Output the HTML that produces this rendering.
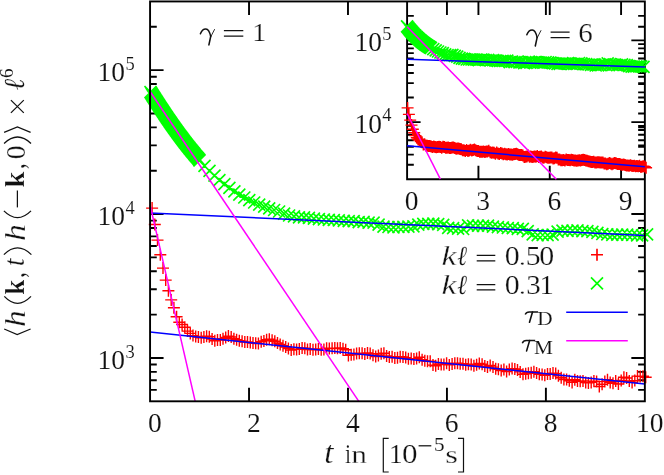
<!DOCTYPE html>
<html lang="en"><head><meta charset="utf-8"><title>plot</title>
<style>html,body{margin:0;padding:0;background:#fff}svg{display:block;will-change:transform}text{font-family:"Liberation Serif",serif}</style></head>
<body>
<svg width="664" height="475" viewBox="0 0 664 475">
<rect width="664" height="475" fill="#fff"/>
<path d="M249.03 401.30L249.03 387.80M249.03 1.45L249.03 14.95M347.98 401.30L347.98 387.80M347.98 1.45L347.98 14.95M446.94 401.30L446.94 387.80M446.94 1.45L446.94 14.95M545.89 401.30L545.89 387.80M545.89 1.45L545.89 14.95M150.07 389.90L156.77 389.90M644.85 389.90L638.15 389.90M150.07 380.27L156.77 380.27M644.85 380.27L638.15 380.27M150.07 371.92L156.77 371.92M644.85 371.92L638.15 371.92M150.07 364.56L156.77 364.56M644.85 364.56L638.15 364.56M150.07 357.97L163.57 357.97M644.85 357.97L631.35 357.97M150.07 314.65L156.77 314.65M644.85 314.65L638.15 314.65M150.07 289.30L156.77 289.30M644.85 289.30L638.15 289.30M150.07 271.32L156.77 271.32M644.85 271.32L638.15 271.32M150.07 257.37L156.77 257.37M644.85 257.37L638.15 257.37M150.07 245.98L156.77 245.98M644.85 245.98L638.15 245.98M150.07 236.34L156.77 236.34M644.85 236.34L638.15 236.34M150.07 228.00L156.77 228.00M644.85 228.00L638.15 228.00M150.07 220.63L156.77 220.63M644.85 220.63L638.15 220.63M150.07 214.05L163.57 214.05M644.85 214.05L631.35 214.05M150.07 170.72L156.77 170.72M644.85 170.72L638.15 170.72M150.07 145.38L156.77 145.38M644.85 145.38L638.15 145.38M150.07 127.39L156.77 127.39M644.85 127.39L638.15 127.39M150.07 113.45L156.77 113.45M644.85 113.45L638.15 113.45M150.07 102.05L156.77 102.05M644.85 102.05L638.15 102.05M150.07 92.41L156.77 92.41M644.85 92.41L638.15 92.41M150.07 84.07L156.77 84.07M644.85 84.07L638.15 84.07M150.07 76.71L156.77 76.71M644.85 76.71L638.15 76.71M150.07 70.12L163.57 70.12M644.85 70.12L631.35 70.12M150.07 26.79L156.77 26.79M644.85 26.79L638.15 26.79M478.43 179.20L478.43 165.70M478.43 1.45L478.43 14.95M549.75 179.20L549.75 165.70M549.75 1.45L549.75 14.95M621.08 179.20L621.08 165.70M621.08 1.45L621.08 14.95M407.10 164.82L413.80 164.82M644.85 164.82L638.15 164.82M407.10 154.61L413.80 154.61M644.85 154.61L638.15 154.61M407.10 146.70L413.80 146.70M644.85 146.70L638.15 146.70M407.10 140.23L413.80 140.23M644.85 140.23L638.15 140.23M407.10 134.76L413.80 134.76M644.85 134.76L638.15 134.76M407.10 130.02L413.80 130.02M644.85 130.02L638.15 130.02M407.10 125.84L413.80 125.84M644.85 125.84L638.15 125.84M407.10 122.11L420.60 122.11M644.85 122.11L631.35 122.11M407.10 97.52L413.80 97.52M644.85 97.52L638.15 97.52M407.10 83.13L413.80 83.13M644.85 83.13L638.15 83.13M407.10 72.93L413.80 72.93M644.85 72.93L638.15 72.93M407.10 65.01L413.80 65.01M644.85 65.01L638.15 65.01M407.10 58.54L413.80 58.54M644.85 58.54L638.15 58.54M407.10 53.08L413.80 53.08M644.85 53.08L638.15 53.08M407.10 48.34L413.80 48.34M644.85 48.34L638.15 48.34M407.10 44.16L413.80 44.16M644.85 44.16L638.15 44.16M407.10 40.42L420.60 40.42M644.85 40.42L631.35 40.42M407.10 15.83L413.80 15.83M644.85 15.83L638.15 15.83" stroke="#000" stroke-width="1.9" fill="none"/>
<path d="M146.1 208.1h12.0M152.1 202.1v12.0M148.8 224.5h12.0M154.8 218.5v12.0M151.5 240.1h12.0M157.5 234.1v12.0M154.3 254.7h12.0M160.3 248.7v12.0M157.0 268.1h12.0M163.0 262.1v12.0M159.7 280.1h12.0M165.7 274.1v12.0M162.4 290.8h12.0M168.4 284.8v12.0M165.2 299.9h12.0M171.2 293.9v12.0M167.9 307.7h12.0M173.9 301.7v12.0M170.6 316.8h12.0M176.6 310.8v12.0M173.3 322.3h12.0M179.3 316.3v12.0M176.1 324.5h12.0M182.1 318.5v12.0M178.8 327.3h12.0M184.8 321.3v12.0M181.5 331.1h12.0M187.5 325.1v12.0M184.3 333.4h12.0M190.3 327.4v12.0M187.0 335.6h12.0M193.0 329.6v12.0M189.7 336.4h12.0M195.7 330.4v12.0M192.4 337.0h12.0M198.4 331.0v12.0M195.2 337.7h12.0M201.2 331.7v12.0M197.9 337.0h12.0M203.9 331.0v12.0M200.6 336.3h12.0M206.6 330.3v12.0M203.3 336.8h12.0M209.3 330.8v12.0M206.1 339.1h12.0M212.1 333.1v12.0M208.8 340.7h12.0M214.8 334.7v12.0M211.5 340.1h12.0M217.5 334.1v12.0M214.3 340.0h12.0M220.3 334.0v12.0M217.0 338.8h12.0M223.0 332.8v12.0M219.7 337.5h12.0M225.7 331.5v12.0M222.4 336.1h12.0M228.4 330.1v12.0M225.2 337.0h12.0M231.2 331.0v12.0M227.9 338.7h12.0M233.9 332.7v12.0M230.6 339.7h12.0M236.6 333.7v12.0M233.3 340.7h12.0M239.3 334.7v12.0M236.1 341.2h12.0M242.1 335.2v12.0M238.8 342.0h12.0M244.8 336.0v12.0M241.5 342.0h12.0M247.5 336.0v12.0M244.3 342.6h12.0M250.3 336.6v12.0M247.0 343.1h12.0M253.0 337.1v12.0M249.7 343.3h12.0M255.7 337.3v12.0M252.4 343.6h12.0M258.4 337.6v12.0M255.2 341.8h12.0M261.2 335.8v12.0M257.9 340.9h12.0M263.9 334.9v12.0M260.6 339.7h12.0M266.6 333.7v12.0M263.3 339.2h12.0M269.3 333.2v12.0M266.1 340.2h12.0M272.1 334.2v12.0M268.8 341.2h12.0M274.8 335.2v12.0M271.5 343.0h12.0M277.5 337.0v12.0M274.2 344.5h12.0M280.2 338.5v12.0M277.0 345.8h12.0M283.0 339.8v12.0M279.7 347.1h12.0M285.7 341.1v12.0M282.4 348.5h12.0M288.4 342.5v12.0M285.2 350.1h12.0M291.2 344.1v12.0M287.9 349.2h12.0M293.9 343.2v12.0M290.6 349.4h12.0M296.6 343.4v12.0M293.3 349.1h12.0M299.3 343.1v12.0M296.1 348.0h12.0M302.1 342.0v12.0M298.8 348.2h12.0M304.8 342.2v12.0M301.5 349.5h12.0M307.5 343.5v12.0M304.2 348.9h12.0M310.2 342.9v12.0M307.0 349.7h12.0M313.0 343.7v12.0M309.7 349.4h12.0M315.7 343.4v12.0M312.4 349.0h12.0M318.4 343.0v12.0M315.2 349.8h12.0M321.2 343.8v12.0M317.9 349.6h12.0M323.9 343.6v12.0M320.6 348.3h12.0M326.6 342.3v12.0M323.3 348.6h12.0M329.3 342.6v12.0M326.1 348.2h12.0M332.1 342.2v12.0M328.8 348.1h12.0M334.8 342.1v12.0M331.5 348.3h12.0M337.5 342.3v12.0M334.2 347.9h12.0M340.2 341.9v12.0M337.0 348.8h12.0M343.0 342.8v12.0M339.7 349.8h12.0M345.7 343.8v12.0M342.4 355.4h12.0M348.4 349.4v12.0M345.2 354.8h12.0M351.2 348.8v12.0M347.9 354.5h12.0M353.9 348.5v12.0M350.6 353.6h12.0M356.6 347.6v12.0M353.3 353.2h12.0M359.3 347.2v12.0M356.1 353.3h12.0M362.1 347.3v12.0M358.8 354.0h12.0M364.8 348.0v12.0M361.5 352.9h12.0M367.5 346.9v12.0M364.2 353.6h12.0M370.2 347.6v12.0M367.0 355.3h12.0M373.0 349.3v12.0M369.7 356.5h12.0M375.7 350.5v12.0M372.4 355.4h12.0M378.4 349.4v12.0M375.2 353.7h12.0M381.2 347.7v12.0M377.9 353.2h12.0M383.9 347.2v12.0M380.6 355.9h12.0M386.6 349.9v12.0M383.3 357.0h12.0M389.3 351.0v12.0M386.1 356.8h12.0M392.1 350.8v12.0M388.8 357.9h12.0M394.8 351.9v12.0M391.5 357.7h12.0M397.5 351.7v12.0M394.2 356.8h12.0M400.2 350.8v12.0M397.0 357.0h12.0M403.0 351.0v12.0M399.7 357.6h12.0M405.7 351.6v12.0M402.4 358.7h12.0M408.4 352.7v12.0M405.2 358.6h12.0M411.2 352.6v12.0M407.9 358.9h12.0M413.9 352.9v12.0M410.6 358.6h12.0M416.6 352.6v12.0M413.3 357.2h12.0M419.3 351.2v12.0M416.1 359.8h12.0M422.1 353.8v12.0M418.8 360.8h12.0M424.8 354.8v12.0M421.5 361.3h12.0M427.5 355.3v12.0M424.2 361.2h12.0M430.2 355.2v12.0M427.0 365.1h12.0M433.0 359.1v12.0M429.7 365.7h12.0M435.7 359.7v12.0M432.4 363.9h12.0M438.4 357.9v12.0M435.2 364.4h12.0M441.2 358.4v12.0M437.9 364.6h12.0M443.9 358.6v12.0M440.6 363.3h12.0M446.6 357.3v12.0M443.3 364.9h12.0M449.3 358.9v12.0M446.1 364.0h12.0M452.1 358.0v12.0M448.8 363.2h12.0M454.8 357.2v12.0M451.5 363.3h12.0M457.5 357.3v12.0M454.2 363.7h12.0M460.2 357.7v12.0M457.0 363.7h12.0M463.0 357.7v12.0M459.7 364.7h12.0M465.7 358.7v12.0M462.4 364.2h12.0M468.4 358.2v12.0M465.2 364.6h12.0M471.2 358.6v12.0M467.9 365.8h12.0M473.9 359.8v12.0M470.6 364.7h12.0M476.6 358.7v12.0M473.3 363.4h12.0M479.3 357.4v12.0M476.1 364.3h12.0M482.1 358.3v12.0M478.8 366.1h12.0M484.8 360.1v12.0M481.5 366.9h12.0M487.5 360.9v12.0M484.2 365.5h12.0M490.2 359.5v12.0M487.0 367.1h12.0M493.0 361.1v12.0M489.7 368.8h12.0M495.7 362.8v12.0M492.4 369.2h12.0M498.4 363.2v12.0M495.2 370.5h12.0M501.2 364.5v12.0M497.9 369.6h12.0M503.9 363.6v12.0M500.6 371.5h12.0M506.6 365.5v12.0M503.3 369.5h12.0M509.3 363.5v12.0M506.1 368.6h12.0M512.1 362.6v12.0M508.8 369.0h12.0M514.8 363.0v12.0M511.5 370.0h12.0M517.5 364.0v12.0M514.2 371.9h12.0M520.2 365.9v12.0M517.0 374.3h12.0M523.0 368.3v12.0M519.7 373.7h12.0M525.7 367.7v12.0M522.4 373.2h12.0M528.4 367.2v12.0M525.2 372.8h12.0M531.2 366.8v12.0M527.9 371.8h12.0M533.9 365.8v12.0M530.6 373.1h12.0M536.6 367.1v12.0M533.3 374.3h12.0M539.3 368.3v12.0M536.1 374.4h12.0M542.1 368.4v12.0M538.8 375.3h12.0M544.8 369.3v12.0M541.5 374.1h12.0M547.5 368.1v12.0M544.2 373.9h12.0M550.2 367.9v12.0M547.0 373.1h12.0M553.0 367.1v12.0M549.7 373.6h12.0M555.7 367.6v12.0M552.4 375.8h12.0M558.4 369.8v12.0M555.2 377.8h12.0M561.2 371.8v12.0M557.9 379.5h12.0M563.9 373.5v12.0M560.6 379.6h12.0M566.6 373.6v12.0M563.3 380.7h12.0M569.3 374.7v12.0M566.1 382.4h12.0M572.1 376.4v12.0M568.8 379.7h12.0M574.8 373.7v12.0M571.5 381.0h12.0M577.5 375.0v12.0M574.2 381.3h12.0M580.2 375.3v12.0M577.0 380.9h12.0M583.0 374.9v12.0M579.7 382.6h12.0M585.7 376.6v12.0M582.4 382.9h12.0M588.4 376.9v12.0M585.2 382.4h12.0M591.2 376.4v12.0M587.9 381.1h12.0M593.9 375.1v12.0M590.6 381.6h12.0M596.6 375.6v12.0M593.3 386.5h12.0M599.3 380.5v12.0M596.1 384.2h12.0M602.1 378.2v12.0M598.8 381.6h12.0M604.8 375.6v12.0M601.5 379.8h12.0M607.5 373.8v12.0M604.2 382.4h12.0M610.2 376.4v12.0M607.0 383.3h12.0M613.0 377.3v12.0M609.7 381.0h12.0M615.7 375.0v12.0M612.4 384.0h12.0M618.4 378.0v12.0M615.2 380.5h12.0M621.2 374.5v12.0M617.9 377.2h12.0M623.9 371.2v12.0M620.6 378.0h12.0M626.6 372.0v12.0M623.3 381.0h12.0M629.3 375.0v12.0M626.1 382.4h12.0M632.1 376.4v12.0M628.8 380.6h12.0M634.8 374.6v12.0M631.5 376.1h12.0M637.5 370.1v12.0M634.2 376.4h12.0M640.2 370.4v12.0M637.0 376.3h12.0M643.0 370.3v12.0M639.7 377.2h12.0M645.7 371.2v12.0" stroke="#f00" stroke-width="1.4" fill="none"/>
<path d="M144.5 86.0l12.0 12.0M144.5 98.0l12.0 -12.0M144.9 86.7l12.0 12.0M144.9 98.7l12.0 -12.0M145.4 87.4l12.0 12.0M145.4 99.4l12.0 -12.0M145.8 88.1l12.0 12.0M145.8 100.1l12.0 -12.0M146.3 88.8l12.0 12.0M146.3 100.8l12.0 -12.0M146.7 89.6l12.0 12.0M146.7 101.6l12.0 -12.0M147.2 90.3l12.0 12.0M147.2 102.3l12.0 -12.0M147.6 91.0l12.0 12.0M147.6 103.0l12.0 -12.0M148.1 91.7l12.0 12.0M148.1 103.7l12.0 -12.0M148.5 92.4l12.0 12.0M148.5 104.4l12.0 -12.0M149.0 93.1l12.0 12.0M149.0 105.1l12.0 -12.0M149.4 93.8l12.0 12.0M149.4 105.8l12.0 -12.0M149.9 94.5l12.0 12.0M149.9 106.5l12.0 -12.0M150.3 95.2l12.0 12.0M150.3 107.2l12.0 -12.0M150.8 95.9l12.0 12.0M150.8 107.9l12.0 -12.0M151.2 96.6l12.0 12.0M151.2 108.6l12.0 -12.0M151.7 97.3l12.0 12.0M151.7 109.3l12.0 -12.0M152.1 98.0l12.0 12.0M152.1 110.0l12.0 -12.0M152.6 98.7l12.0 12.0M152.6 110.7l12.0 -12.0M153.0 99.4l12.0 12.0M153.0 111.4l12.0 -12.0M153.5 100.1l12.0 12.0M153.5 112.1l12.0 -12.0M153.9 100.8l12.0 12.0M153.9 112.8l12.0 -12.0M154.4 101.5l12.0 12.0M154.4 113.5l12.0 -12.0M154.8 102.2l12.0 12.0M154.8 114.2l12.0 -12.0M155.3 102.8l12.0 12.0M155.3 114.8l12.0 -12.0M155.7 103.5l12.0 12.0M155.7 115.5l12.0 -12.0M156.2 104.2l12.0 12.0M156.2 116.2l12.0 -12.0M156.6 104.9l12.0 12.0M156.6 116.9l12.0 -12.0M157.1 105.6l12.0 12.0M157.1 117.6l12.0 -12.0M157.5 106.2l12.0 12.0M157.5 118.2l12.0 -12.0M158.0 106.9l12.0 12.0M158.0 118.9l12.0 -12.0M158.4 107.6l12.0 12.0M158.4 119.6l12.0 -12.0M158.9 108.3l12.0 12.0M158.9 120.3l12.0 -12.0M159.3 108.9l12.0 12.0M159.3 120.9l12.0 -12.0M159.8 109.6l12.0 12.0M159.8 121.6l12.0 -12.0M160.2 110.3l12.0 12.0M160.2 122.3l12.0 -12.0M160.7 110.9l12.0 12.0M160.7 122.9l12.0 -12.0M161.1 111.6l12.0 12.0M161.1 123.6l12.0 -12.0M161.6 112.3l12.0 12.0M161.6 124.3l12.0 -12.0M162.0 112.9l12.0 12.0M162.0 124.9l12.0 -12.0M162.5 113.6l12.0 12.0M162.5 125.6l12.0 -12.0M162.9 114.2l12.0 12.0M162.9 126.2l12.0 -12.0M163.4 114.9l12.0 12.0M163.4 126.9l12.0 -12.0M163.8 115.6l12.0 12.0M163.8 127.6l12.0 -12.0M164.3 116.2l12.0 12.0M164.3 128.2l12.0 -12.0M164.7 116.9l12.0 12.0M164.7 128.9l12.0 -12.0M165.2 117.5l12.0 12.0M165.2 129.5l12.0 -12.0M165.6 118.1l12.0 12.0M165.6 130.1l12.0 -12.0M166.1 118.8l12.0 12.0M166.1 130.8l12.0 -12.0M166.5 119.4l12.0 12.0M166.5 131.4l12.0 -12.0M167.0 120.1l12.0 12.0M167.0 132.1l12.0 -12.0M167.4 120.7l12.0 12.0M167.4 132.7l12.0 -12.0M167.9 121.3l12.0 12.0M167.9 133.3l12.0 -12.0M168.3 122.0l12.0 12.0M168.3 134.0l12.0 -12.0M168.8 122.6l12.0 12.0M168.8 134.6l12.0 -12.0M169.2 123.2l12.0 12.0M169.2 135.2l12.0 -12.0M169.7 123.9l12.0 12.0M169.7 135.9l12.0 -12.0M170.1 124.5l12.0 12.0M170.1 136.5l12.0 -12.0M170.6 125.1l12.0 12.0M170.6 137.1l12.0 -12.0M171.0 125.7l12.0 12.0M171.0 137.7l12.0 -12.0M171.5 126.4l12.0 12.0M171.5 138.4l12.0 -12.0M171.9 127.0l12.0 12.0M171.9 139.0l12.0 -12.0M172.4 127.6l12.0 12.0M172.4 139.6l12.0 -12.0M172.8 128.2l12.0 12.0M172.8 140.2l12.0 -12.0M173.3 128.8l12.0 12.0M173.3 140.8l12.0 -12.0M173.7 129.4l12.0 12.0M173.7 141.4l12.0 -12.0M174.2 130.0l12.0 12.0M174.2 142.0l12.0 -12.0M174.6 130.6l12.0 12.0M174.6 142.6l12.0 -12.0M175.1 131.2l12.0 12.0M175.1 143.2l12.0 -12.0M175.5 131.8l12.0 12.0M175.5 143.8l12.0 -12.0M176.0 132.4l12.0 12.0M176.0 144.4l12.0 -12.0M176.4 133.0l12.0 12.0M176.4 145.0l12.0 -12.0M176.9 133.6l12.0 12.0M176.9 145.6l12.0 -12.0M177.3 134.2l12.0 12.0M177.3 146.2l12.0 -12.0M177.8 134.8l12.0 12.0M177.8 146.8l12.0 -12.0M178.2 135.4l12.0 12.0M178.2 147.4l12.0 -12.0M178.7 136.0l12.0 12.0M178.7 148.0l12.0 -12.0M179.1 136.6l12.0 12.0M179.1 148.6l12.0 -12.0M179.6 137.2l12.0 12.0M179.6 149.2l12.0 -12.0M180.0 137.7l12.0 12.0M180.0 149.7l12.0 -12.0M180.5 138.3l12.0 12.0M180.5 150.3l12.0 -12.0M180.9 138.9l12.0 12.0M180.9 150.9l12.0 -12.0M181.4 139.5l12.0 12.0M181.4 151.5l12.0 -12.0M181.8 140.0l12.0 12.0M181.8 152.0l12.0 -12.0M182.3 140.6l12.0 12.0M182.3 152.6l12.0 -12.0M182.7 141.2l12.0 12.0M182.7 153.2l12.0 -12.0M183.2 141.7l12.0 12.0M183.2 153.7l12.0 -12.0M183.6 142.3l12.0 12.0M183.6 154.3l12.0 -12.0M184.1 142.8l12.0 12.0M184.1 154.8l12.0 -12.0M184.5 143.4l12.0 12.0M184.5 155.4l12.0 -12.0M185.0 143.9l12.0 12.0M185.0 155.9l12.0 -12.0M185.4 144.5l12.0 12.0M185.4 156.5l12.0 -12.0M185.9 145.0l12.0 12.0M185.9 157.0l12.0 -12.0M186.3 145.6l12.0 12.0M186.3 157.6l12.0 -12.0M186.8 146.1l12.0 12.0M186.8 158.1l12.0 -12.0M187.2 146.7l12.0 12.0M187.2 158.7l12.0 -12.0M187.7 147.2l12.0 12.0M187.7 159.2l12.0 -12.0M188.1 147.7l12.0 12.0M188.1 159.7l12.0 -12.0M188.6 148.3l12.0 12.0M188.6 160.3l12.0 -12.0M189.0 148.8l12.0 12.0M189.0 160.8l12.0 -12.0M189.4 149.3l12.0 12.0M189.4 161.3l12.0 -12.0M189.9 149.9l12.0 12.0M189.9 161.9l12.0 -12.0M190.3 150.4l12.0 12.0M190.3 162.4l12.0 -12.0M190.8 150.9l12.0 12.0M190.8 162.9l12.0 -12.0M191.2 151.4l12.0 12.0M191.2 163.4l12.0 -12.0M191.7 151.9l12.0 12.0M191.7 163.9l12.0 -12.0M192.1 152.4l12.0 12.0M192.1 164.4l12.0 -12.0M192.6 153.0l12.0 12.0M192.6 165.0l12.0 -12.0M193.0 153.5l12.0 12.0M193.0 165.5l12.0 -12.0M193.5 154.0l12.0 12.0M193.5 166.0l12.0 -12.0M193.5 154.5l12.0 12.0M193.5 166.5l12.0 -12.0M198.5 159.9l12.0 12.0M198.5 171.9l12.0 -12.0M203.5 164.9l12.0 12.0M203.5 176.9l12.0 -12.0M208.5 169.7l12.0 12.0M208.5 181.7l12.0 -12.0M213.4 174.1l12.0 12.0M213.4 186.1l12.0 -12.0M218.4 178.2l12.0 12.0M218.4 190.2l12.0 -12.0M223.4 181.9l12.0 12.0M223.4 193.9l12.0 -12.0M228.4 185.4l12.0 12.0M228.4 197.4l12.0 -12.0M233.3 188.6l12.0 12.0M233.3 200.6l12.0 -12.0M238.3 191.5l12.0 12.0M238.3 203.5l12.0 -12.0M243.3 194.1l12.0 12.0M243.3 206.1l12.0 -12.0M248.2 196.5l12.0 12.0M248.2 208.5l12.0 -12.0M253.2 198.7l12.0 12.0M253.2 210.7l12.0 -12.0M258.2 200.6l12.0 12.0M258.2 212.6l12.0 -12.0M263.2 202.4l12.0 12.0M263.2 214.4l12.0 -12.0M268.1 204.0l12.0 12.0M268.1 216.0l12.0 -12.0M273.1 205.5l12.0 12.0M273.1 217.5l12.0 -12.0M278.1 207.6l12.0 12.0M278.1 219.6l12.0 -12.0M283.1 209.5l12.0 12.0M283.1 221.5l12.0 -12.0M288.0 210.3l12.0 12.0M288.0 222.3l12.0 -12.0M293.0 211.4l12.0 12.0M293.0 223.4l12.0 -12.0M298.0 211.3l12.0 12.0M298.0 223.3l12.0 -12.0M302.9 211.9l12.0 12.0M302.9 223.9l12.0 -12.0M307.9 212.7l12.0 12.0M307.9 224.7l12.0 -12.0M312.9 213.2l12.0 12.0M312.9 225.2l12.0 -12.0M317.9 213.5l12.0 12.0M317.9 225.5l12.0 -12.0M322.8 213.9l12.0 12.0M322.8 225.9l12.0 -12.0M327.8 214.0l12.0 12.0M327.8 226.0l12.0 -12.0M332.8 214.3l12.0 12.0M332.8 226.3l12.0 -12.0M337.8 214.9l12.0 12.0M337.8 226.9l12.0 -12.0M342.7 215.1l12.0 12.0M342.7 227.1l12.0 -12.0M347.7 215.1l12.0 12.0M347.7 227.1l12.0 -12.0M352.7 216.2l12.0 12.0M352.7 228.2l12.0 -12.0M357.6 215.9l12.0 12.0M357.6 227.9l12.0 -12.0M362.6 216.6l12.0 12.0M362.6 228.6l12.0 -12.0M367.6 216.7l12.0 12.0M367.6 228.7l12.0 -12.0M372.6 218.6l12.0 12.0M372.6 230.6l12.0 -12.0M377.5 220.7l12.0 12.0M377.5 232.7l12.0 -12.0M382.5 221.0l12.0 12.0M382.5 233.0l12.0 -12.0M387.5 221.3l12.0 12.0M387.5 233.3l12.0 -12.0M392.4 221.0l12.0 12.0M392.4 233.0l12.0 -12.0M397.4 220.8l12.0 12.0M397.4 232.8l12.0 -12.0M402.4 220.7l12.0 12.0M402.4 232.7l12.0 -12.0M407.4 220.3l12.0 12.0M407.4 232.3l12.0 -12.0M412.3 218.7l12.0 12.0M412.3 230.7l12.0 -12.0M417.3 217.9l12.0 12.0M417.3 229.9l12.0 -12.0M422.3 217.9l12.0 12.0M422.3 229.9l12.0 -12.0M427.3 217.7l12.0 12.0M427.3 229.7l12.0 -12.0M432.2 218.1l12.0 12.0M432.2 230.1l12.0 -12.0M437.2 218.9l12.0 12.0M437.2 230.9l12.0 -12.0M442.2 221.8l12.0 12.0M442.2 233.8l12.0 -12.0M447.1 222.2l12.0 12.0M447.1 234.2l12.0 -12.0M452.1 222.7l12.0 12.0M452.1 234.7l12.0 -12.0M457.1 223.0l12.0 12.0M457.1 235.0l12.0 -12.0M462.1 219.3l12.0 12.0M462.1 231.3l12.0 -12.0M467.0 219.8l12.0 12.0M467.0 231.8l12.0 -12.0M472.0 219.7l12.0 12.0M472.0 231.7l12.0 -12.0M477.0 219.8l12.0 12.0M477.0 231.8l12.0 -12.0M482.0 219.7l12.0 12.0M482.0 231.7l12.0 -12.0M486.9 220.7l12.0 12.0M486.9 232.7l12.0 -12.0M491.9 221.2l12.0 12.0M491.9 233.2l12.0 -12.0M496.9 221.5l12.0 12.0M496.9 233.5l12.0 -12.0M501.8 222.0l12.0 12.0M501.8 234.0l12.0 -12.0M506.8 222.2l12.0 12.0M506.8 234.2l12.0 -12.0M511.8 222.8l12.0 12.0M511.8 234.8l12.0 -12.0M516.8 222.8l12.0 12.0M516.8 234.8l12.0 -12.0M521.7 225.2l12.0 12.0M521.7 237.2l12.0 -12.0M526.7 228.3l12.0 12.0M526.7 240.3l12.0 -12.0M531.7 229.1l12.0 12.0M531.7 241.1l12.0 -12.0M536.7 229.0l12.0 12.0M536.7 241.0l12.0 -12.0M541.6 229.2l12.0 12.0M541.6 241.2l12.0 -12.0M546.6 228.6l12.0 12.0M546.6 240.6l12.0 -12.0M551.6 225.7l12.0 12.0M551.6 237.7l12.0 -12.0M556.5 224.6l12.0 12.0M556.5 236.6l12.0 -12.0M561.5 224.8l12.0 12.0M561.5 236.8l12.0 -12.0M566.5 224.6l12.0 12.0M566.5 236.6l12.0 -12.0M571.5 224.4l12.0 12.0M571.5 236.4l12.0 -12.0M576.4 225.1l12.0 12.0M576.4 237.1l12.0 -12.0M581.4 225.1l12.0 12.0M581.4 237.1l12.0 -12.0M586.4 225.9l12.0 12.0M586.4 237.9l12.0 -12.0M591.4 226.8l12.0 12.0M591.4 238.8l12.0 -12.0M596.3 228.0l12.0 12.0M596.3 240.0l12.0 -12.0M601.3 228.4l12.0 12.0M601.3 240.4l12.0 -12.0M606.3 228.8l12.0 12.0M606.3 240.8l12.0 -12.0M611.2 228.6l12.0 12.0M611.2 240.6l12.0 -12.0M616.2 228.6l12.0 12.0M616.2 240.6l12.0 -12.0M621.2 228.6l12.0 12.0M621.2 240.6l12.0 -12.0M626.2 229.0l12.0 12.0M626.2 241.0l12.0 -12.0M631.1 229.3l12.0 12.0M631.1 241.3l12.0 -12.0M636.1 229.3l12.0 12.0M636.1 241.3l12.0 -12.0M641.1 228.4l12.0 12.0M641.1 240.4l12.0 -12.0" stroke="#0f0" stroke-width="1.65" fill="none"/>
<line x1="150.07" y1="212.90" x2="644.85" y2="235.40" stroke="#00f" stroke-width="1.5"/>
<line x1="150.07" y1="332.10" x2="644.85" y2="384.10" stroke="#00f" stroke-width="1.5"/>
<line x1="150.07" y1="91.50" x2="358.83" y2="401.30" stroke="#f0f" stroke-width="1.5"/>
<line x1="150.07" y1="205.00" x2="195.20" y2="401.30" stroke="#f0f" stroke-width="1.5"/>
<rect x="150.07" y="1.45" width="494.78" height="399.85" fill="none" stroke="#000" stroke-width="1.9"/>
<path d="M407.1 1.45V179.2H644.85" fill="none" stroke="#000" stroke-width="1.9"/>
<path d="M401.6 107.9h12.0M407.6 101.9v12.0M402.9 114.4h12.0M408.9 108.4v12.0M404.2 120.1h12.0M410.2 114.1v12.0M405.5 125.1h12.0M411.5 119.1v12.0M406.8 129.3h12.0M412.8 123.3v12.0M408.2 132.7h12.0M414.2 126.7v12.0M409.5 135.6h12.0M415.5 129.6v12.0M410.8 137.8h12.0M416.8 131.8v12.0M412.1 139.5h12.0M418.1 133.5v12.0M413.4 140.0h12.0M419.4 134.0v12.0M414.7 141.6h12.0M420.7 135.6v12.0M416.0 142.3h12.0M422.0 136.3v12.0M417.3 144.4h12.0M423.3 138.4v12.0M418.6 144.3h12.0M424.6 138.3v12.0M419.9 145.4h12.0M425.9 139.4v12.0M421.3 145.7h12.0M427.3 139.7v12.0M422.6 146.0h12.0M428.6 140.0v12.0M423.9 146.0h12.0M429.9 140.0v12.0M425.2 146.4h12.0M431.2 140.4v12.0M426.5 147.1h12.0M432.5 141.1v12.0M427.8 146.6h12.0M433.8 140.6v12.0M429.1 146.9h12.0M435.1 140.9v12.0M430.4 147.3h12.0M436.4 141.3v12.0M431.7 147.0h12.0M437.7 141.0v12.0M433.1 146.7h12.0M439.1 140.7v12.0M434.4 147.1h12.0M440.4 141.1v12.0M435.7 147.7h12.0M441.7 141.7v12.0M437.0 146.7h12.0M443.0 140.7v12.0M438.3 147.1h12.0M444.3 141.1v12.0M439.6 147.8h12.0M445.6 141.8v12.0M440.9 147.8h12.0M446.9 141.8v12.0M442.2 147.6h12.0M448.2 141.6v12.0M443.5 148.0h12.0M449.5 142.0v12.0M444.8 147.9h12.0M450.8 141.9v12.0M446.2 147.6h12.0M452.2 141.6v12.0M447.5 147.5h12.0M453.5 141.5v12.0M448.8 148.0h12.0M454.8 142.0v12.0M450.1 148.8h12.0M456.1 142.8v12.0M451.4 148.4h12.0M457.4 142.4v12.0M452.7 148.6h12.0M458.7 142.6v12.0M454.0 149.1h12.0M460.0 143.1v12.0M455.3 149.3h12.0M461.3 143.3v12.0M456.6 150.2h12.0M462.6 144.2v12.0M458.0 150.2h12.0M464.0 144.2v12.0M459.3 151.0h12.0M465.3 145.0v12.0M460.6 150.1h12.0M466.6 144.1v12.0M461.9 151.0h12.0M467.9 145.0v12.0M463.2 150.4h12.0M469.2 144.4v12.0M464.5 149.7h12.0M470.5 143.7v12.0M465.8 150.6h12.0M471.8 144.6v12.0M467.1 150.1h12.0M473.1 144.1v12.0M468.4 149.5h12.0M474.4 143.5v12.0M469.7 150.2h12.0M475.7 144.2v12.0M471.1 151.0h12.0M477.1 145.0v12.0M472.4 151.0h12.0M478.4 145.0v12.0M473.7 151.7h12.0M479.7 145.7v12.0M475.0 151.8h12.0M481.0 145.8v12.0M476.3 151.8h12.0M482.3 145.8v12.0M477.6 151.6h12.0M483.6 145.6v12.0M478.9 151.9h12.0M484.9 145.9v12.0M480.2 151.5h12.0M486.2 145.5v12.0M481.5 151.5h12.0M487.5 145.5v12.0M482.8 150.7h12.0M488.8 144.7v12.0M484.2 152.2h12.0M490.2 146.2v12.0M485.5 152.7h12.0M491.5 146.7v12.0M486.8 152.5h12.0M492.8 146.5v12.0M488.1 152.7h12.0M494.1 146.7v12.0M489.4 153.8h12.0M495.4 147.8v12.0M490.7 152.5h12.0M496.7 146.5v12.0M492.0 153.4h12.0M498.0 147.4v12.0M493.3 154.1h12.0M499.3 148.1v12.0M494.6 152.9h12.0M500.6 146.9v12.0M496.0 153.6h12.0M502.0 147.6v12.0M497.3 154.2h12.0M503.3 148.2v12.0M498.6 153.7h12.0M504.6 147.7v12.0M499.9 154.3h12.0M505.9 148.3v12.0M501.2 154.6h12.0M507.2 148.6v12.0M502.5 154.1h12.0M508.5 148.1v12.0M503.8 154.5h12.0M509.8 148.5v12.0M505.1 154.6h12.0M511.1 148.6v12.0M506.4 154.7h12.0M512.4 148.7v12.0M507.7 154.2h12.0M513.7 148.2v12.0M509.1 154.1h12.0M515.1 148.1v12.0M510.4 153.8h12.0M516.4 147.8v12.0M511.7 154.2h12.0M517.7 148.2v12.0M513.0 155.0h12.0M519.0 149.0v12.0M514.3 155.1h12.0M520.3 149.1v12.0M515.6 155.1h12.0M521.6 149.1v12.0M516.9 155.5h12.0M522.9 149.5v12.0M518.2 157.1h12.0M524.2 151.1v12.0M519.5 156.7h12.0M525.5 150.7v12.0M520.9 156.6h12.0M526.9 150.6v12.0M522.2 155.4h12.0M528.2 149.4v12.0M523.5 156.7h12.0M529.5 150.7v12.0M524.8 156.6h12.0M530.8 150.6v12.0M526.1 157.1h12.0M532.1 151.1v12.0M527.4 156.7h12.0M533.4 150.7v12.0M528.7 156.5h12.0M534.7 150.5v12.0M530.0 156.8h12.0M536.0 150.8v12.0M531.3 155.9h12.0M537.3 149.9v12.0M532.6 157.0h12.0M538.6 151.0v12.0M534.0 156.8h12.0M540.0 150.8v12.0M535.3 156.5h12.0M541.3 150.5v12.0M536.6 157.4h12.0M542.6 151.4v12.0M537.9 157.7h12.0M543.9 151.7v12.0M539.2 156.7h12.0M545.2 150.7v12.0M540.5 157.2h12.0M546.5 151.2v12.0M541.8 157.7h12.0M547.8 151.7v12.0M543.1 157.7h12.0M549.1 151.7v12.0M544.4 157.6h12.0M550.4 151.6v12.0M545.8 157.4h12.0M551.8 151.4v12.0M547.1 158.6h12.0M553.1 152.6v12.0M548.4 158.2h12.0M554.4 152.2v12.0M549.7 157.6h12.0M555.7 151.6v12.0M551.0 157.8h12.0M557.0 151.8v12.0M552.3 159.4h12.0M558.3 153.4v12.0M553.6 159.6h12.0M559.6 153.6v12.0M554.9 160.3h12.0M560.9 154.3v12.0M556.2 160.3h12.0M562.2 154.3v12.0M557.5 159.9h12.0M563.5 153.9v12.0M558.9 160.5h12.0M564.9 154.5v12.0M560.2 159.5h12.0M566.2 153.5v12.0M561.5 160.0h12.0M567.5 154.0v12.0M562.8 160.1h12.0M568.8 154.1v12.0M564.1 160.3h12.0M570.1 154.3v12.0M565.4 159.8h12.0M571.4 153.8v12.0M566.7 160.1h12.0M572.7 154.1v12.0M568.0 160.5h12.0M574.0 154.5v12.0M569.3 160.5h12.0M575.3 154.5v12.0M570.7 160.7h12.0M576.7 154.7v12.0M572.0 160.5h12.0M578.0 154.5v12.0M573.3 160.2h12.0M579.3 154.2v12.0M574.6 160.5h12.0M580.6 154.5v12.0M575.9 160.1h12.0M581.9 154.1v12.0M577.2 159.7h12.0M583.2 153.7v12.0M578.5 159.9h12.0M584.5 153.9v12.0M579.8 160.4h12.0M585.8 154.4v12.0M581.1 160.7h12.0M587.1 154.7v12.0M582.4 161.2h12.0M588.4 155.2v12.0M583.8 161.6h12.0M589.8 155.6v12.0M585.1 162.0h12.0M591.1 156.0v12.0M586.4 162.1h12.0M592.4 156.1v12.0M587.7 161.8h12.0M593.7 155.8v12.0M589.0 162.4h12.0M595.0 156.4v12.0M590.3 162.6h12.0M596.3 156.6v12.0M591.6 162.3h12.0M597.6 156.3v12.0M592.9 162.2h12.0M598.9 156.2v12.0M594.2 162.6h12.0M600.2 156.6v12.0M595.6 162.4h12.0M601.6 156.4v12.0M596.9 162.4h12.0M602.9 156.4v12.0M598.2 163.6h12.0M604.2 157.6v12.0M599.5 163.5h12.0M605.5 157.5v12.0M600.8 164.3h12.0M606.8 158.3v12.0M602.1 163.7h12.0M608.1 157.7v12.0M603.4 163.0h12.0M609.4 157.0v12.0M604.7 163.4h12.0M610.7 157.4v12.0M606.0 164.2h12.0M612.0 158.2v12.0M607.3 163.4h12.0M613.3 157.4v12.0M608.7 162.9h12.0M614.7 156.9v12.0M610.0 163.2h12.0M616.0 157.2v12.0M611.3 163.9h12.0M617.3 157.9v12.0M612.6 164.0h12.0M618.6 158.0v12.0M613.9 164.1h12.0M619.9 158.1v12.0M615.2 164.8h12.0M621.2 158.8v12.0M616.5 164.7h12.0M622.5 158.7v12.0M617.8 164.6h12.0M623.8 158.6v12.0M619.1 165.0h12.0M625.1 159.0v12.0M620.4 165.6h12.0M626.4 159.6v12.0M621.8 165.5h12.0M627.8 159.5v12.0M623.1 165.8h12.0M629.1 159.8v12.0M624.4 165.2h12.0M630.4 159.2v12.0M625.7 165.7h12.0M631.7 159.7v12.0M627.0 166.1h12.0M633.0 160.1v12.0M628.3 165.7h12.0M634.3 159.7v12.0M629.6 166.3h12.0M635.6 160.3v12.0M630.9 166.1h12.0M636.9 160.1v12.0M632.2 166.2h12.0M638.2 160.2v12.0M633.6 165.8h12.0M639.6 159.8v12.0M634.9 167.0h12.0M640.9 161.0v12.0M636.2 166.6h12.0M642.2 160.6v12.0M637.5 166.3h12.0M643.5 160.3v12.0M638.8 166.6h12.0M644.8 160.6v12.0M640.1 167.7h12.0M646.1 161.7v12.0" stroke="#f00" stroke-width="1.4" fill="none"/>
<path d="M401.1 20.3l12.0 12.0M401.1 32.3l12.0 -12.0M401.3 20.6l12.0 12.0M401.3 32.6l12.0 -12.0M401.5 20.8l12.0 12.0M401.5 32.8l12.0 -12.0M401.7 21.1l12.0 12.0M401.7 33.1l12.0 -12.0M402.0 21.4l12.0 12.0M402.0 33.4l12.0 -12.0M402.2 21.6l12.0 12.0M402.2 33.6l12.0 -12.0M402.4 21.9l12.0 12.0M402.4 33.9l12.0 -12.0M402.6 22.2l12.0 12.0M402.6 34.2l12.0 -12.0M402.8 22.4l12.0 12.0M402.8 34.4l12.0 -12.0M403.0 22.7l12.0 12.0M403.0 34.7l12.0 -12.0M403.3 23.0l12.0 12.0M403.3 35.0l12.0 -12.0M403.5 23.2l12.0 12.0M403.5 35.2l12.0 -12.0M403.7 23.5l12.0 12.0M403.7 35.5l12.0 -12.0M403.9 23.7l12.0 12.0M403.9 35.7l12.0 -12.0M404.1 24.0l12.0 12.0M404.1 36.0l12.0 -12.0M404.3 24.3l12.0 12.0M404.3 36.3l12.0 -12.0M404.6 24.5l12.0 12.0M404.6 36.5l12.0 -12.0M404.8 24.8l12.0 12.0M404.8 36.8l12.0 -12.0M405.0 25.0l12.0 12.0M405.0 37.0l12.0 -12.0M405.2 25.3l12.0 12.0M405.2 37.3l12.0 -12.0M405.4 25.5l12.0 12.0M405.4 37.5l12.0 -12.0M405.6 25.8l12.0 12.0M405.6 37.8l12.0 -12.0M405.9 26.0l12.0 12.0M405.9 38.0l12.0 -12.0M406.1 26.2l12.0 12.0M406.1 38.2l12.0 -12.0M406.3 26.5l12.0 12.0M406.3 38.5l12.0 -12.0M406.5 26.7l12.0 12.0M406.5 38.7l12.0 -12.0M406.7 27.0l12.0 12.0M406.7 39.0l12.0 -12.0M406.9 27.2l12.0 12.0M406.9 39.2l12.0 -12.0M407.2 27.4l12.0 12.0M407.2 39.4l12.0 -12.0M407.4 27.7l12.0 12.0M407.4 39.7l12.0 -12.0M407.6 27.9l12.0 12.0M407.6 39.9l12.0 -12.0M407.8 28.1l12.0 12.0M407.8 40.1l12.0 -12.0M408.0 28.4l12.0 12.0M408.0 40.4l12.0 -12.0M408.2 28.6l12.0 12.0M408.2 40.6l12.0 -12.0M408.4 28.8l12.0 12.0M408.4 40.8l12.0 -12.0M408.7 29.0l12.0 12.0M408.7 41.0l12.0 -12.0M408.9 29.3l12.0 12.0M408.9 41.3l12.0 -12.0M409.1 29.5l12.0 12.0M409.1 41.5l12.0 -12.0M409.3 29.7l12.0 12.0M409.3 41.7l12.0 -12.0M409.5 29.9l12.0 12.0M409.5 41.9l12.0 -12.0M409.7 30.1l12.0 12.0M409.7 42.1l12.0 -12.0M410.0 30.3l12.0 12.0M410.0 42.3l12.0 -12.0M410.2 30.6l12.0 12.0M410.2 42.6l12.0 -12.0M410.4 30.8l12.0 12.0M410.4 42.8l12.0 -12.0M410.6 31.0l12.0 12.0M410.6 43.0l12.0 -12.0M410.8 31.2l12.0 12.0M410.8 43.2l12.0 -12.0M411.0 31.4l12.0 12.0M411.0 43.4l12.0 -12.0M411.3 31.6l12.0 12.0M411.3 43.6l12.0 -12.0M411.5 31.8l12.0 12.0M411.5 43.8l12.0 -12.0M411.7 32.0l12.0 12.0M411.7 44.0l12.0 -12.0M411.9 32.2l12.0 12.0M411.9 44.2l12.0 -12.0M412.1 32.4l12.0 12.0M412.1 44.4l12.0 -12.0M412.3 32.6l12.0 12.0M412.3 44.6l12.0 -12.0M412.6 32.8l12.0 12.0M412.6 44.8l12.0 -12.0M412.8 33.0l12.0 12.0M412.8 45.0l12.0 -12.0M413.0 33.2l12.0 12.0M413.0 45.2l12.0 -12.0M413.2 33.4l12.0 12.0M413.2 45.4l12.0 -12.0M413.4 33.6l12.0 12.0M413.4 45.6l12.0 -12.0M413.6 33.8l12.0 12.0M413.6 45.8l12.0 -12.0M413.9 34.0l12.0 12.0M413.9 46.0l12.0 -12.0M414.1 34.2l12.0 12.0M414.1 46.2l12.0 -12.0M414.3 34.4l12.0 12.0M414.3 46.4l12.0 -12.0M414.5 34.5l12.0 12.0M414.5 46.5l12.0 -12.0M414.7 34.7l12.0 12.0M414.7 46.7l12.0 -12.0M414.9 34.9l12.0 12.0M414.9 46.9l12.0 -12.0M415.1 35.1l12.0 12.0M415.1 47.1l12.0 -12.0M415.4 35.3l12.0 12.0M415.4 47.3l12.0 -12.0M415.6 35.4l12.0 12.0M415.6 47.4l12.0 -12.0M415.8 35.6l12.0 12.0M415.8 47.6l12.0 -12.0M416.0 35.8l12.0 12.0M416.0 47.8l12.0 -12.0M416.2 36.0l12.0 12.0M416.2 48.0l12.0 -12.0M416.4 36.1l12.0 12.0M416.4 48.1l12.0 -12.0M416.7 36.3l12.0 12.0M416.7 48.3l12.0 -12.0M416.9 36.5l12.0 12.0M416.9 48.5l12.0 -12.0M417.1 36.7l12.0 12.0M417.1 48.7l12.0 -12.0M417.3 36.8l12.0 12.0M417.3 48.8l12.0 -12.0M417.5 37.0l12.0 12.0M417.5 49.0l12.0 -12.0M417.7 37.2l12.0 12.0M417.7 49.2l12.0 -12.0M418.0 37.3l12.0 12.0M418.0 49.3l12.0 -12.0M418.2 37.5l12.0 12.0M418.2 49.5l12.0 -12.0M418.4 37.6l12.0 12.0M418.4 49.6l12.0 -12.0M418.6 37.8l12.0 12.0M418.6 49.8l12.0 -12.0M418.8 38.0l12.0 12.0M418.8 50.0l12.0 -12.0M419.0 38.1l12.0 12.0M419.0 50.1l12.0 -12.0M419.3 38.3l12.0 12.0M419.3 50.3l12.0 -12.0M419.5 38.4l12.0 12.0M419.5 50.4l12.0 -12.0M419.7 38.6l12.0 12.0M419.7 50.6l12.0 -12.0M419.9 38.7l12.0 12.0M419.9 50.7l12.0 -12.0M420.1 38.9l12.0 12.0M420.1 50.9l12.0 -12.0M420.3 39.0l12.0 12.0M420.3 51.0l12.0 -12.0M420.6 39.2l12.0 12.0M420.6 51.2l12.0 -12.0M420.8 39.3l12.0 12.0M420.8 51.3l12.0 -12.0M421.0 39.5l12.0 12.0M421.0 51.5l12.0 -12.0M421.2 39.6l12.0 12.0M421.2 51.6l12.0 -12.0M421.4 39.8l12.0 12.0M421.4 51.8l12.0 -12.0M421.6 39.9l12.0 12.0M421.6 51.9l12.0 -12.0M421.8 40.0l12.0 12.0M421.8 52.0l12.0 -12.0M422.1 40.2l12.0 12.0M422.1 52.2l12.0 -12.0M422.3 40.3l12.0 12.0M422.3 52.3l12.0 -12.0M422.5 40.5l12.0 12.0M422.5 52.5l12.0 -12.0M422.7 40.6l12.0 12.0M422.7 52.6l12.0 -12.0M422.9 40.7l12.0 12.0M422.9 52.7l12.0 -12.0M423.1 40.9l12.0 12.0M423.1 52.9l12.0 -12.0M423.4 41.0l12.0 12.0M423.4 53.0l12.0 -12.0M423.6 41.1l12.0 12.0M423.6 53.1l12.0 -12.0M423.8 41.3l12.0 12.0M423.8 53.3l12.0 -12.0M424.0 41.4l12.0 12.0M424.0 53.4l12.0 -12.0M424.2 41.5l12.0 12.0M424.2 53.5l12.0 -12.0M424.4 41.7l12.0 12.0M424.4 53.7l12.0 -12.0M424.7 41.8l12.0 12.0M424.7 53.8l12.0 -12.0M424.9 41.9l12.0 12.0M424.9 53.9l12.0 -12.0M427.3 43.2l12.0 12.0M427.3 55.2l12.0 -12.0M429.7 44.4l12.0 12.0M429.7 56.4l12.0 -12.0M432.0 45.5l12.0 12.0M432.0 57.5l12.0 -12.0M434.4 46.5l12.0 12.0M434.4 58.5l12.0 -12.0M436.8 47.1l12.0 12.0M436.8 59.1l12.0 -12.0M439.2 48.4l12.0 12.0M439.2 60.4l12.0 -12.0M441.6 49.0l12.0 12.0M441.6 61.0l12.0 -12.0M444.0 49.0l12.0 12.0M444.0 61.0l12.0 -12.0M446.4 48.8l12.0 12.0M446.4 60.8l12.0 -12.0M448.8 49.8l12.0 12.0M448.8 61.8l12.0 -12.0M451.2 50.7l12.0 12.0M451.2 62.7l12.0 -12.0M453.5 51.9l12.0 12.0M453.5 63.9l12.0 -12.0M455.9 52.6l12.0 12.0M455.9 64.6l12.0 -12.0M458.3 52.9l12.0 12.0M458.3 64.9l12.0 -12.0M460.7 53.5l12.0 12.0M460.7 65.5l12.0 -12.0M463.1 53.5l12.0 12.0M463.1 65.5l12.0 -12.0M465.5 53.5l12.0 12.0M465.5 65.5l12.0 -12.0M467.9 53.6l12.0 12.0M467.9 65.6l12.0 -12.0M470.3 53.7l12.0 12.0M470.3 65.7l12.0 -12.0M472.7 54.2l12.0 12.0M472.7 66.2l12.0 -12.0M475.1 53.5l12.0 12.0M475.1 65.5l12.0 -12.0M477.4 53.7l12.0 12.0M477.4 65.7l12.0 -12.0M479.8 54.1l12.0 12.0M479.8 66.1l12.0 -12.0M482.2 53.8l12.0 12.0M482.2 65.8l12.0 -12.0M484.6 54.5l12.0 12.0M484.6 66.5l12.0 -12.0M487.0 54.1l12.0 12.0M487.0 66.1l12.0 -12.0M489.4 54.6l12.0 12.0M489.4 66.6l12.0 -12.0M491.8 55.0l12.0 12.0M491.8 67.0l12.0 -12.0M494.2 55.0l12.0 12.0M494.2 67.0l12.0 -12.0M496.6 54.8l12.0 12.0M496.6 66.8l12.0 -12.0M498.9 54.9l12.0 12.0M498.9 66.9l12.0 -12.0M501.3 54.7l12.0 12.0M501.3 66.7l12.0 -12.0M503.7 56.1l12.0 12.0M503.7 68.1l12.0 -12.0M506.1 55.7l12.0 12.0M506.1 67.7l12.0 -12.0M508.5 56.2l12.0 12.0M508.5 68.2l12.0 -12.0M510.9 55.8l12.0 12.0M510.9 67.8l12.0 -12.0M513.3 56.4l12.0 12.0M513.3 68.4l12.0 -12.0M515.7 56.1l12.0 12.0M515.7 68.1l12.0 -12.0M518.1 57.1l12.0 12.0M518.1 69.1l12.0 -12.0M520.5 56.9l12.0 12.0M520.5 68.9l12.0 -12.0M522.8 55.6l12.0 12.0M522.8 67.6l12.0 -12.0M525.2 56.2l12.0 12.0M525.2 68.2l12.0 -12.0M527.6 56.6l12.0 12.0M527.6 68.6l12.0 -12.0M530.0 56.1l12.0 12.0M530.0 68.1l12.0 -12.0M532.4 56.3l12.0 12.0M532.4 68.3l12.0 -12.0M534.8 56.6l12.0 12.0M534.8 68.6l12.0 -12.0M537.2 56.6l12.0 12.0M537.2 68.6l12.0 -12.0M539.6 56.0l12.0 12.0M539.6 68.0l12.0 -12.0M542.0 56.4l12.0 12.0M542.0 68.4l12.0 -12.0M544.3 56.7l12.0 12.0M544.3 68.7l12.0 -12.0M546.7 57.1l12.0 12.0M546.7 69.1l12.0 -12.0M549.1 57.5l12.0 12.0M549.1 69.5l12.0 -12.0M551.5 57.9l12.0 12.0M551.5 69.9l12.0 -12.0M553.9 57.9l12.0 12.0M553.9 69.9l12.0 -12.0M556.3 57.1l12.0 12.0M556.3 69.1l12.0 -12.0M558.7 57.5l12.0 12.0M558.7 69.5l12.0 -12.0M561.1 57.6l12.0 12.0M561.1 69.6l12.0 -12.0M563.5 57.7l12.0 12.0M563.5 69.7l12.0 -12.0M565.8 58.0l12.0 12.0M565.8 70.0l12.0 -12.0M568.2 57.9l12.0 12.0M568.2 69.9l12.0 -12.0M570.6 57.8l12.0 12.0M570.6 69.8l12.0 -12.0M573.0 57.0l12.0 12.0M573.0 69.0l12.0 -12.0M575.4 57.3l12.0 12.0M575.4 69.3l12.0 -12.0M577.8 58.0l12.0 12.0M577.8 70.0l12.0 -12.0M580.2 58.2l12.0 12.0M580.2 70.2l12.0 -12.0M582.6 58.5l12.0 12.0M582.6 70.5l12.0 -12.0M585.0 58.8l12.0 12.0M585.0 70.8l12.0 -12.0M587.4 58.7l12.0 12.0M587.4 70.7l12.0 -12.0M589.7 59.5l12.0 12.0M589.7 71.5l12.0 -12.0M592.1 59.4l12.0 12.0M592.1 71.4l12.0 -12.0M594.5 59.1l12.0 12.0M594.5 71.1l12.0 -12.0M596.9 58.5l12.0 12.0M596.9 70.5l12.0 -12.0M599.3 58.4l12.0 12.0M599.3 70.4l12.0 -12.0M601.7 57.3l12.0 12.0M601.7 69.3l12.0 -12.0M604.1 58.1l12.0 12.0M604.1 70.1l12.0 -12.0M606.5 58.8l12.0 12.0M606.5 70.8l12.0 -12.0M608.9 58.5l12.0 12.0M608.9 70.5l12.0 -12.0M611.2 59.2l12.0 12.0M611.2 71.2l12.0 -12.0M613.6 59.1l12.0 12.0M613.6 71.1l12.0 -12.0M616.0 58.4l12.0 12.0M616.0 70.4l12.0 -12.0M618.4 58.9l12.0 12.0M618.4 70.9l12.0 -12.0M620.8 59.2l12.0 12.0M620.8 71.2l12.0 -12.0M623.2 60.1l12.0 12.0M623.2 72.1l12.0 -12.0M625.6 60.6l12.0 12.0M625.6 72.6l12.0 -12.0M628.0 60.6l12.0 12.0M628.0 72.6l12.0 -12.0M630.4 60.3l12.0 12.0M630.4 72.3l12.0 -12.0M632.8 60.4l12.0 12.0M632.8 72.4l12.0 -12.0M635.1 60.4l12.0 12.0M635.1 72.4l12.0 -12.0M637.5 60.8l12.0 12.0M637.5 72.8l12.0 -12.0" stroke="#0f0" stroke-width="1.65" fill="none"/>
<line x1="407.10" y1="59.30" x2="644.85" y2="67.00" stroke="#00f" stroke-width="1.5"/>
<line x1="407.10" y1="145.70" x2="644.85" y2="166.80" stroke="#00f" stroke-width="1.5"/>
<line x1="407.10" y1="26.80" x2="556.37" y2="179.20" stroke="#f0f" stroke-width="1.5"/>
<line x1="407.10" y1="113.50" x2="440.37" y2="179.20" stroke="#f0f" stroke-width="1.5"/>
<g fill="#111" font-family="Liberation Serif, serif">
<text x="97.50" y="81.10" text-anchor="start" style="font-size:27.5px;" stroke="#fff" stroke-width="0.11" >10</text>
<text x="125.50" y="69.50" text-anchor="start" style="font-size:18.5px;" stroke="#fff" stroke-width="0.11" >5</text>
<text x="97.50" y="225.10" text-anchor="start" style="font-size:27.5px;" stroke="#fff" stroke-width="0.11" >10</text>
<text x="125.50" y="213.50" text-anchor="start" style="font-size:18.5px;" stroke="#fff" stroke-width="0.11" >4</text>
<text x="97.50" y="369.00" text-anchor="start" style="font-size:27.5px;" stroke="#fff" stroke-width="0.11" >10</text>
<text x="125.50" y="358.40" text-anchor="start" style="font-size:18.5px;" stroke="#fff" stroke-width="0.11" >3</text>
<text x="154.87" y="432.30" text-anchor="middle" style="font-size:27.5px;" stroke="#fff" stroke-width="0.11" >0</text>
<text x="253.83" y="432.30" text-anchor="middle" style="font-size:27.5px;" stroke="#fff" stroke-width="0.11" >2</text>
<text x="352.78" y="432.30" text-anchor="middle" style="font-size:27.5px;" stroke="#fff" stroke-width="0.11" >4</text>
<text x="451.74" y="432.30" text-anchor="middle" style="font-size:27.5px;" stroke="#fff" stroke-width="0.11" >6</text>
<text x="550.69" y="432.30" text-anchor="middle" style="font-size:27.5px;" stroke="#fff" stroke-width="0.11" >8</text>
<text x="649.65" y="432.30" text-anchor="middle" style="font-size:27.5px;" stroke="#fff" stroke-width="0.11" >10</text>
<text x="354.60" y="51.30" text-anchor="start" style="font-size:27.5px;" stroke="#fff" stroke-width="0.11" >10</text>
<text x="382.30" y="39.70" text-anchor="start" style="font-size:18.5px;" stroke="#fff" stroke-width="0.11" >5</text>
<text x="354.60" y="132.60" text-anchor="start" style="font-size:27.5px;" stroke="#fff" stroke-width="0.11" >10</text>
<text x="382.30" y="121.00" text-anchor="start" style="font-size:18.5px;" stroke="#fff" stroke-width="0.11" >4</text>
<text x="411.70" y="210.10" text-anchor="middle" style="font-size:27.5px;" stroke="#fff" stroke-width="0.11" >0</text>
<text x="483.03" y="210.10" text-anchor="middle" style="font-size:27.5px;" stroke="#fff" stroke-width="0.11" >3</text>
<text x="554.35" y="210.10" text-anchor="middle" style="font-size:27.5px;" stroke="#fff" stroke-width="0.11" >6</text>
<text x="625.68" y="210.10" text-anchor="middle" style="font-size:27.5px;" stroke="#fff" stroke-width="0.11" >9</text>
<g transform="translate(199.9,27.9)" fill="none" stroke="#111" stroke-linecap="round"><path d="M0.5 5.8C1.7 2.7 3.8 0.9 6.0 1.0C8.8 1.2 9.9 4.4 10.7 8.2" stroke-width="1.5"/><path d="M14.6 1.6L10.9 8.8" stroke-width="0.9"/><path d="M10.8 8.6L9.0 17.0" stroke-width="1.55"/></g>
<path d="M223.9 30.7H243.3M223.9 36.2H243.3" stroke="#111" stroke-width="1.25" fill="none"/>
<text transform="matrix(0.2812 0 0 0.2621 252.13 40.60)" style="font-size:100px;" stroke="#fff" stroke-width="0.87">1</text>
<g transform="translate(526.3,29.0)" fill="none" stroke="#111" stroke-linecap="round"><path d="M0.5 5.8C1.7 2.7 3.8 0.9 6.0 1.0C8.8 1.2 9.9 4.4 10.7 8.2" stroke-width="1.5"/><path d="M14.6 1.6L10.9 8.8" stroke-width="0.9"/><path d="M10.8 8.6L9.0 17.0" stroke-width="1.55"/></g>
<path d="M550.6 32.1H569.6M550.6 37.6H569.6" stroke="#111" stroke-width="1.25" fill="none"/>
<text transform="matrix(0.2902 0 0 0.2649 578.35 41.64)" style="font-size:100px;" stroke="#fff" stroke-width="0.89">6</text>
<text transform="matrix(0.3398 0 0 0.2652 441.62 264.70)" style="font-size:100px;font-style:italic;" stroke="#fff" stroke-width="1.13">k</text>
<text transform="matrix(0.2352 0 0 0.2769 457.22 264.73)" style="font-size:100px;font-style:italic;" stroke="#fff" stroke-width="0.78">ℓ</text>
<path d="M476.7 255.4H495.3M476.7 260.8H495.3" stroke="#111" stroke-width="1.25" fill="none"/>
<text transform="matrix(0.2996 0 0 0.2771 504.66 265.33)" style="font-size:100px;" stroke="#fff" stroke-width="0.84">0</text>
<text transform="matrix(0.2708 0 0 0.2285 519.01 264.98)" style="font-size:100px;" stroke="#fff" stroke-width="1.18">.</text>
<text transform="matrix(0.2979 0 0 0.2814 525.87 265.33)" style="font-size:100px;" stroke="#fff" stroke-width="0.79">5</text>
<text transform="matrix(0.2996 0 0 0.2771 539.26 265.33)" style="font-size:100px;" stroke="#fff" stroke-width="0.84">0</text>
<text transform="matrix(0.3398 0 0 0.2652 441.62 293.80)" style="font-size:100px;font-style:italic;" stroke="#fff" stroke-width="1.13">k</text>
<text transform="matrix(0.2352 0 0 0.2769 457.22 293.83)" style="font-size:100px;font-style:italic;" stroke="#fff" stroke-width="0.78">ℓ</text>
<path d="M476.7 284.5H495.3M476.7 289.90000000000003H495.3" stroke="#111" stroke-width="1.25" fill="none"/>
<text transform="matrix(0.2996 0 0 0.2771 504.66 294.43)" style="font-size:100px;" stroke="#fff" stroke-width="0.84">0</text>
<text transform="matrix(0.2708 0 0 0.2285 519.01 294.08)" style="font-size:100px;" stroke="#fff" stroke-width="1.18">.</text>
<text transform="matrix(0.2905 0 0 0.2783 526.21 294.43)" style="font-size:100px;" stroke="#fff" stroke-width="0.78">3</text>
<text transform="matrix(0.2869 0 0 0.2696 539.58 293.80)" style="font-size:100px;" stroke="#fff" stroke-width="0.83">1</text>
<g transform="translate(524.9,311.1)" fill="none" stroke="#111"><path d="M0.3 3.5C1.0 1.7 2.3 0.8 4.3 0.8H13.2" stroke-width="1.45"/><path d="M7.6 0.9L4.6 11.2" stroke-width="1.6" stroke-linecap="round"/></g>
<text transform="matrix(0.2128 0 0 0.1812 537.19 324.86)" style="font-size:100px;" stroke="#fff" stroke-width="0.41">D</text>
<g transform="translate(522.0,339.7)" fill="none" stroke="#111"><path d="M0.3 3.5C1.0 1.7 2.3 0.8 4.3 0.8H13.2" stroke-width="1.45"/><path d="M7.6 0.9L4.6 11.2" stroke-width="1.6" stroke-linecap="round"/></g>
<text transform="matrix(0.2130 0 0 0.1833 533.99 353.70)" style="font-size:100px;" stroke="#fff" stroke-width="0.40">M</text>
<text transform="matrix(0.3308 0 0 0.3160 324.35 462.79)" style="font-size:100px;font-style:italic;" stroke="#fff" stroke-width="0.69">t</text>
<text transform="matrix(0.2187 0 0 0.2824 345.04 462.70)" style="font-size:100px;" stroke="#fff" stroke-width="0.80">i</text>
<text transform="matrix(0.3139 0 0 0.2547 351.18 462.70)" style="font-size:100px;" stroke="#fff" stroke-width="1.12">n</text>
<text transform="matrix(0.2727 0 0 0.2711 389.00 462.70)" style="font-size:100px;" stroke="#fff" stroke-width="0.75">1</text>
<text transform="matrix(0.3114 0 0 0.2801 402.01 463.03)" style="font-size:100px;" stroke="#fff" stroke-width="0.87">0</text>
<path d="M418.6 445.8H431.3" stroke="#111" stroke-width="1.25" fill="none"/>
<text transform="matrix(0.2110 0 0 0.1851 433.97 450.62)" style="font-size:100px;" stroke="#fff" stroke-width="0.40">5</text>
<text transform="matrix(0.3269 0 0 0.2578 445.36 462.75)" style="font-size:100px;" stroke="#fff" stroke-width="1.15">s</text>
</g>
<path d="M388.7 438.4H383.3V472.0H388.7M458.0 438.4H463.5V472.0H458.0" stroke="#111" stroke-width="1.2" fill="none"/>
<path d="M591.0 254.7h12.0M597.0 248.7v12.0" stroke="#f00" stroke-width="1.65" fill="none"/>
<path d="M591.0 277.4l12.0 12.0M591.0 289.4l12.0 -12.0" stroke="#0f0" stroke-width="1.65" fill="none"/>
<line x1="566.20" y1="312.20" x2="627.80" y2="312.20" stroke="#00f" stroke-width="1.5"/>
<line x1="566.20" y1="340.70" x2="627.80" y2="340.70" stroke="#f0f" stroke-width="1.5"/>
<path d="M4.2 329.0L17.2 334.6L30.6 329.0" stroke="#111" stroke-width="1.2" fill="none"/>
<path d="M4.3 296.4Q17.5 310.2 31 296.4" stroke="#111" stroke-width="1.3" fill="none"/>
<path d="M3.9 254.6Q17.5 241.2 31.4 254.6" stroke="#111" stroke-width="1.3" fill="none"/>
<path d="M3.9 210.9Q17.5 224.5 31 210.9" stroke="#111" stroke-width="1.3" fill="none"/>
<path d="M17.4 190.5V207.4" stroke="#111" stroke-width="1.25" fill="none"/>
<path d="M4.1 143.5Q17.5 130.6 31 143.5" stroke="#111" stroke-width="1.3" fill="none"/>
<path d="M4.1 132.4L17.4 126.9L30.6 132.4" stroke="#111" stroke-width="1.2" fill="none"/>
<path d="M10.9 100.1L23.8 112.9M23.8 100.1L10.9 112.9" stroke="#111" stroke-width="1.25" fill="none"/>
<g transform="translate(24.4,340.0) rotate(-90)" fill="#111" font-family="Liberation Serif, serif">
<text transform="matrix(0.3338 0 0 0.2882 13.09 0.30)" style="font-size:100px;font-style:italic;" stroke="#fff" stroke-width="0.90">h</text>
<text transform="matrix(0.2680 0 0 0.2724 45.13 -0.20)" style="font-size:100px;font-weight:bold;" stroke="#fff" stroke-width="0.74">k</text>
<text transform="matrix(0.2350 0 0 0.3193 62.10 -0.31)" style="font-size:100px;" stroke="#fff" stroke-width="0.73">,</text>
<text transform="matrix(0.2678 0 0 0.2986 74.12 -0.19)" style="font-size:100px;font-style:italic;" stroke="#fff" stroke-width="0.71">t</text>
<text transform="matrix(0.3362 0 0 0.2854 99.09 0.30)" style="font-size:100px;font-style:italic;" stroke="#fff" stroke-width="0.93">h</text>
<text transform="matrix(0.2831 0 0 0.2724 152.49 -0.20)" style="font-size:100px;font-weight:bold;" stroke="#fff" stroke-width="0.79">k</text>
<text transform="matrix(0.2417 0 0 0.3115 170.68 -0.19)" style="font-size:100px;" stroke="#fff" stroke-width="0.73">,</text>
<text transform="matrix(0.2784 0 0 0.2816 180.74 0.13)" style="font-size:100px;" stroke="#fff" stroke-width="0.71">0</text>
<text transform="matrix(0.2761 0 0 0.2902 249.63 -0.08)" style="font-size:100px;font-style:italic;" stroke="#fff" stroke-width="0.71">ℓ</text>
<text transform="matrix(0.1919 0 0 0.1875 262.08 -11.38)" style="font-size:100px;" stroke="#fff" stroke-width="0.42">6</text>
</g>
</svg>
</body></html>
